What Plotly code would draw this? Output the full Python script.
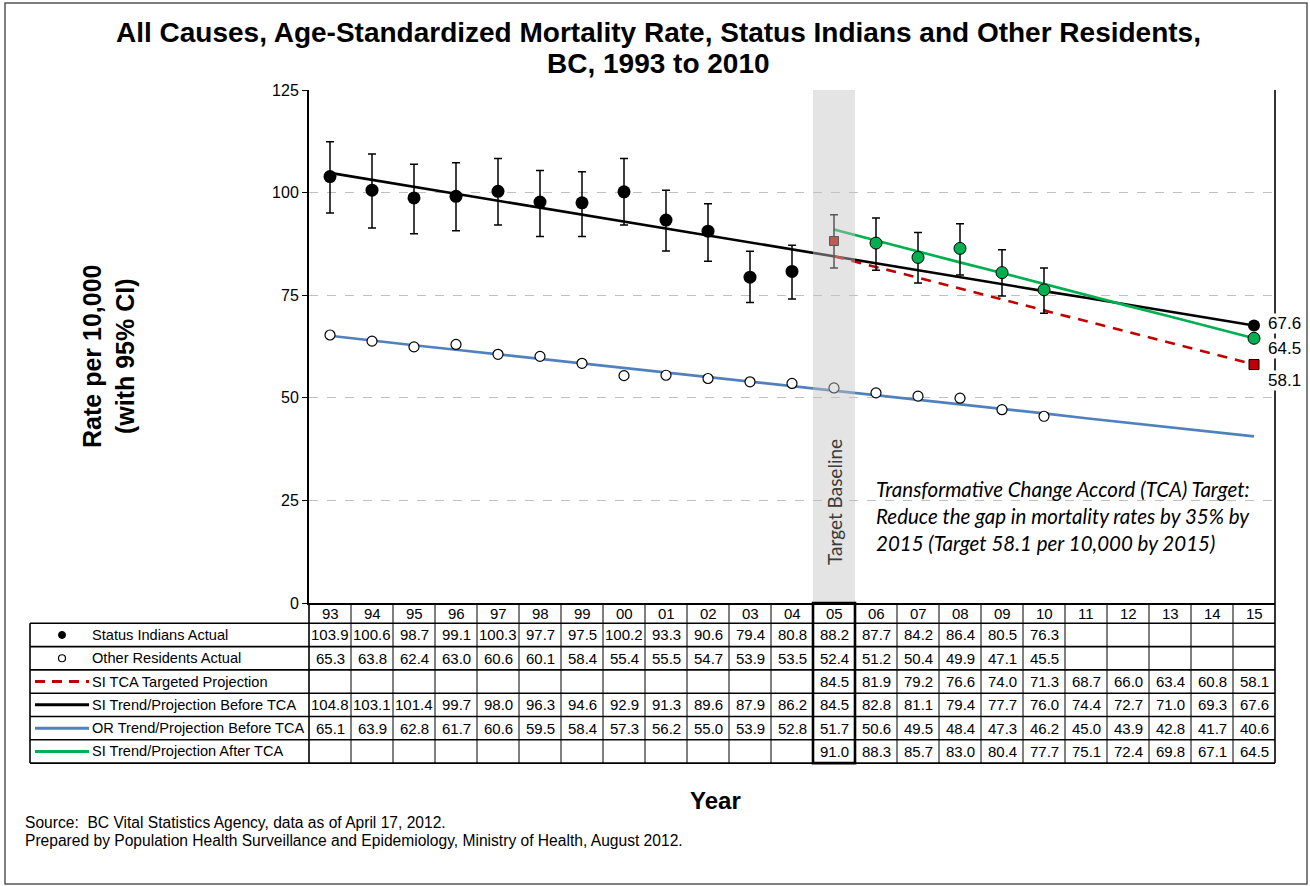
import plotly.graph_objects as go

# ---- data -------------------------------------------------------------
years = ["93", "94", "95", "96", "97", "98", "99", "00", "01", "02", "03",
         "04", "05", "06", "07", "08", "09", "10", "11", "12", "13", "14", "15"]

si_actual = [103.9, 100.6, 98.7, 99.1, 100.3, 97.7, 97.5, 100.2, 93.3, 90.6,
             79.4, 80.8, 88.2, 87.7, 84.2, 86.4, 80.5, 76.3]
si_ci_upper = [112.4, 109.4, 106.9, 107.3, 108.3, 105.4, 105.1, 108.3, 100.6,
               97.3, 85.7, 87.2, 94.6, 93.8, 90.3, 92.4, 86.1, 81.6]
si_ci_lower = [95.0, 91.4, 90.0, 90.7, 92.1, 89.3, 89.3, 92.1, 85.8, 83.3,
               73.2, 74.1, 81.6, 81.1, 78.0, 79.9, 74.8, 70.6]

or_actual = [65.3, 63.8, 62.4, 63.0, 60.6, 60.1, 58.4, 55.4, 55.5, 54.7, 53.9,
             53.5, 52.4, 51.2, 50.4, 49.9, 47.1, 45.5]

si_tca_target = [None] * 12 + [84.5, 81.9, 79.2, 76.6, 74.0, 71.3, 68.7, 66.0,
                               63.4, 60.8, 58.1]
si_trend_before = [104.8, 103.1, 101.4, 99.7, 98.0, 96.3, 94.6, 92.9, 91.3,
                   89.6, 87.9, 86.2, 84.5, 82.8, 81.1, 79.4, 77.7, 76.0, 74.4,
                   72.7, 71.0, 69.3, 67.6]
or_trend_before = [65.1, 63.9, 62.8, 61.7, 60.6, 59.5, 58.4, 57.3, 56.2, 55.0,
                   53.9, 52.8, 51.7, 50.6, 49.5, 48.4, 47.3, 46.2, 45.0, 43.9,
                   42.8, 41.7, 40.6]
si_trend_after = [None] * 12 + [91.0, 88.3, 85.7, 83.0, 80.4, 77.7, 75.1, 72.4,
                                69.8, 67.1, 64.5]

row_labels = ["Status Indians Actual", "Other Residents Actual",
              "SI TCA Targeted Projection", "SI Trend/Projection Before TCA",
              "OR Trend/Projection Before TCA", "SI Trend/Projection After TCA"]

title_lines = ["All Causes, Age-Standardized Mortality Rate, Status Indians and Other Residents,",
               "BC, 1993 to 2010"]

BASE = 12  # index of the 2005 target baseline year

BLACK = "#000000"
BLUE = "#4f81bd"
RED = "#c00000"
GREEN = "#00b050"
FONT = "Liberation Sans, Arial, sans-serif"
NOTE_FONT = "Lato, Open Sans, sans-serif"

# ---- layout geometry (pixels) ----------------------------------------
W, H = 1310, 886
L, R, T, B = 309, 1275, 90, 603


def px(xp):
    return (xp - L) / (R - L)


def py(yp):
    return (B - yp) / (B - T)


def text_at(x, y, text, size, xanchor="center", family=FONT, color=BLACK,
            angle=0, **kw):
    return dict(xref="paper", yref="paper", x=px(x), y=py(y), text=text,
                xanchor=xanchor, yanchor="middle", textangle=angle,
                showarrow=False, font=dict(family=family, size=size,
                                           color=color), **kw)


xs = list(range(len(years)))
n_act = len(si_actual)

fig = go.Figure()

# trend lines
fig.add_trace(go.Scatter(x=xs, y=or_trend_before, mode="lines",
                         line=dict(color=BLUE, width=2.6), hoverinfo="skip"))
fig.add_trace(go.Scatter(x=xs, y=si_trend_before, mode="lines",
                         line=dict(color=BLACK, width=2.6), hoverinfo="skip"))
fig.add_trace(go.Scatter(x=xs, y=si_tca_target, mode="lines",
                         line=dict(color=RED, width=2.6, dash="10px,8px"),
                         hoverinfo="skip"))
fig.add_trace(go.Scatter(x=xs, y=si_trend_after, mode="lines",
                         line=dict(color=GREEN, width=2.6), hoverinfo="skip"))

err_up = [u - v for u, v in zip(si_ci_upper, si_actual)]
err_dn = [v - lo for v, lo in zip(si_actual, si_ci_lower)]


def si_points(idx, symbol, color, size, outline):
    fig.add_trace(go.Scatter(
        x=[xs[i] for i in idx], y=[si_actual[i] for i in idx], mode="markers",
        marker=dict(symbol=symbol, color=color, size=size,
                    line=dict(color=BLACK, width=outline)),
        error_y=dict(type="data", symmetric=False,
                     array=[err_up[i] for i in idx],
                     arrayminus=[err_dn[i] for i in idx],
                     color=BLACK, thickness=1.5, width=4),
        hoverinfo="skip"))


# Status Indians actual: before baseline, baseline year, after baseline
si_points(range(0, BASE), "circle", BLACK, 13, 0)
si_points([BASE], "square", RED, 9, 1)
si_points(range(BASE + 1, n_act), "circle", GREEN, 12, 1)

# Other residents actual
fig.add_trace(go.Scatter(x=xs[:n_act], y=or_actual, mode="markers",
                         marker=dict(symbol="circle", color="white", size=10,
                                     line=dict(color=BLACK, width=1.2)),
                         hoverinfo="skip"))

# 2015 end points of the projections
last = len(years) - 1
fig.add_trace(go.Scatter(x=[xs[last]], y=[si_trend_before[last]], mode="markers",
                         marker=dict(color=BLACK, size=12), hoverinfo="skip"))
fig.add_trace(go.Scatter(x=[xs[last]], y=[si_trend_after[last]], mode="markers",
                         marker=dict(color=GREEN, size=12,
                                     line=dict(color=BLACK, width=1)),
                         hoverinfo="skip"))
fig.add_trace(go.Scatter(x=[xs[last]], y=[si_tca_target[last]], mode="markers",
                         marker=dict(symbol="square", color=RED, size=10,
                                     line=dict(color=BLACK, width=1)),
                         hoverinfo="skip"))

shapes = []
annotations = []

# target baseline band (drawn over the data, semi-transparent)
shapes.append(dict(type="rect", xref="x", yref="paper", x0=BASE - 0.5,
                   x1=BASE + 0.5, y0=0, y1=1, layer="above",
                   fillcolor="rgba(195,195,195,0.45)", line=dict(width=0)))
annotations.append(dict(xref="x", yref="paper", x=BASE, y=py(502),
                        xanchor="center", yanchor="middle",
                        text="Target Baseline", textangle=-90, showarrow=False,
                        font=dict(family=NOTE_FONT, size=19, color="#3a3a3a")))

# right border of the plot area
shapes.append(dict(type="line", xref="paper", yref="paper", x0=1, x1=1, y0=0,
                   y1=1, layer="above", line=dict(color=BLACK, width=1.6)))

# end-point value labels
for val, ypx in [(si_trend_before[last], 323), (si_trend_after[last], 348),
                 (si_tca_target[last], 380)]:
    annotations.append(text_at(1267, ypx, f"{val:.1f}", 17, xanchor="left",
                               bgcolor="white", borderpad=0))

# TCA target note
note = ["Transformative Change Accord (TCA) Target:",
        "Reduce the gap in mortality rates by 35% by",
        "2015 (Target 58.1 per 10,000 by 2015)"]
for i, line in enumerate(note):
    annotations.append(text_at(874, 489 + 27 * i, f"<i>{line}</i>", 20.5,
                               xanchor="left", family=NOTE_FONT))

# ---- data table under the chart --------------------------------------
TBL_LEFT = 30
hdr_top, hdr_bot = 603, 623.3
row_h = 23.3
row_tops = [hdr_bot + row_h * i for i in range(7)]
n_cols = len(years)
TBL_FS = 15

line_thin = dict(color=BLACK, width=1)
line_mid = dict(color=BLACK, width=1.6)

# header cells (years)
for i, yr in enumerate(years):
    annotations.append(dict(xref="x", yref="paper", x=xs[i],
                            y=py((hdr_top + hdr_bot) / 2), text=yr,
                            showarrow=False, xanchor="center",
                            yanchor="middle",
                            font=dict(family=FONT, size=TBL_FS, color=BLACK)))

# horizontal rules
for yt in row_tops:
    shapes.append(dict(type="line", xref="paper", yref="paper",
                       x0=px(TBL_LEFT), x1=1, y0=py(yt), y1=py(yt),
                       line=line_mid))
# vertical rules
shapes.append(dict(type="line", xref="paper", yref="paper", x0=px(TBL_LEFT),
                   x1=px(TBL_LEFT), y0=py(row_tops[0]), y1=py(row_tops[-1]),
                   line=line_mid))
for k in range(n_cols + 1):
    shapes.append(dict(type="line", xref="paper", yref="paper",
                       x0=k / n_cols, x1=k / n_cols, y0=py(hdr_top),
                       y1=py(row_tops[-1]),
                       line=line_mid if k in (0, n_cols) else line_thin))
# heavier box around the baseline year
shapes.append(dict(type="rect", xref="paper", yref="paper",
                   x0=BASE / n_cols, x1=(BASE + 1) / n_cols, y0=py(hdr_top),
                   y1=py(row_tops[-1]), line=dict(color=BLACK, width=2.6)))

table_rows = [si_actual, or_actual, si_tca_target, si_trend_before,
              or_trend_before, si_trend_after]
for r, (label, vals) in enumerate(zip(row_labels, table_rows)):
    yc_px = row_tops[r] + row_h / 2
    annotations.append(text_at(90, yc_px, label, 14.6, xanchor="left"))
    for i, v in enumerate(vals):
        if v is None:
            continue
        annotations.append(dict(xref="x", yref="paper", x=xs[i], y=py(yc_px),
                                text=f"{v:.1f}", showarrow=False,
                                xanchor="center", yanchor="middle",
                                font=dict(family=FONT, size=TBL_FS,
                                          color=BLACK)))

# legend keys in the table
key_y = [py(row_tops[r] + row_h / 2) for r in range(6)]
rpx, rpy = 3.5 / (R - L), 3.5 / (B - T)
shapes.append(dict(type="circle", xref="paper", yref="paper",
                   x0=px(62) - rpx, x1=px(62) + rpx, y0=key_y[0] - rpy,
                   y1=key_y[0] + rpy, fillcolor=BLACK,
                   line=dict(color=BLACK, width=1)))
shapes.append(dict(type="circle", xref="paper", yref="paper",
                   x0=px(62) - rpx, x1=px(62) + rpx, y0=key_y[1] - rpy,
                   y1=key_y[1] + rpy, fillcolor="white",
                   line=dict(color=BLACK, width=1.2)))
for r, color, dash in [(2, RED, "10px,7px"), (3, BLACK, "solid"),
                       (4, BLUE, "solid"), (5, GREEN, "solid")]:
    shapes.append(dict(type="line", xref="paper", yref="paper", x0=px(35),
                       x1=px(89), y0=key_y[r], y1=key_y[r],
                       line=dict(color=color, width=3, dash=dash)))

# ---- titles and notes -------------------------------------------------
annotations.append(text_at(658, 33, f"<b>{title_lines[0]}</b>", 28))
annotations.append(text_at(658, 64, f"<b>{title_lines[1]}</b>", 28))
annotations.append(text_at(108, 357, "<b>Rate per 10,000<br>(with 95% CI)</b>",
                           25, angle=-90))
annotations.append(text_at(715, 800, "<b>Year</b>", 24))
annotations.append(text_at(23, 822,
                           "Source:  BC Vital Statistics Agency, data as of April 17, 2012.",
                           15.6, xanchor="left"))
annotations.append(text_at(23, 840,
                           "Prepared by Population Health Surveillance and Epidemiology, Ministry of Health, August 2012.",
                           15.6, xanchor="left"))

# outer frame
shapes.append(dict(type="rect", xref="paper", yref="paper", x0=px(5),
                   x1=px(1307), y0=py(3), y1=py(884),
                   line=dict(color="#555555", width=1.5)))

fig.update_layout(
    width=W, height=H,
    margin=dict(l=L, r=W - R, t=T, b=H - B, pad=0),
    paper_bgcolor="white", plot_bgcolor="white",
    showlegend=False,
    xaxis=dict(range=[-0.5, len(years) - 0.5], showticklabels=False,
               showgrid=False, zeroline=False, ticks="", showline=True,
               linecolor=BLACK, linewidth=1.6, fixedrange=True),
    yaxis=dict(range=[0, 125], tickvals=[0, 25, 50, 75, 100, 125],
               showgrid=True, gridcolor="#c0c0c0", griddash="dash",
               gridwidth=1, zeroline=False, showline=True, linecolor=BLACK,
               linewidth=2, ticks="outside", ticklen=5, tickcolor=BLACK,
               tickfont=dict(family=FONT, size=16, color=BLACK),
               fixedrange=True),
    shapes=shapes,
    annotations=annotations,
)

fig.write_html("out.html")
